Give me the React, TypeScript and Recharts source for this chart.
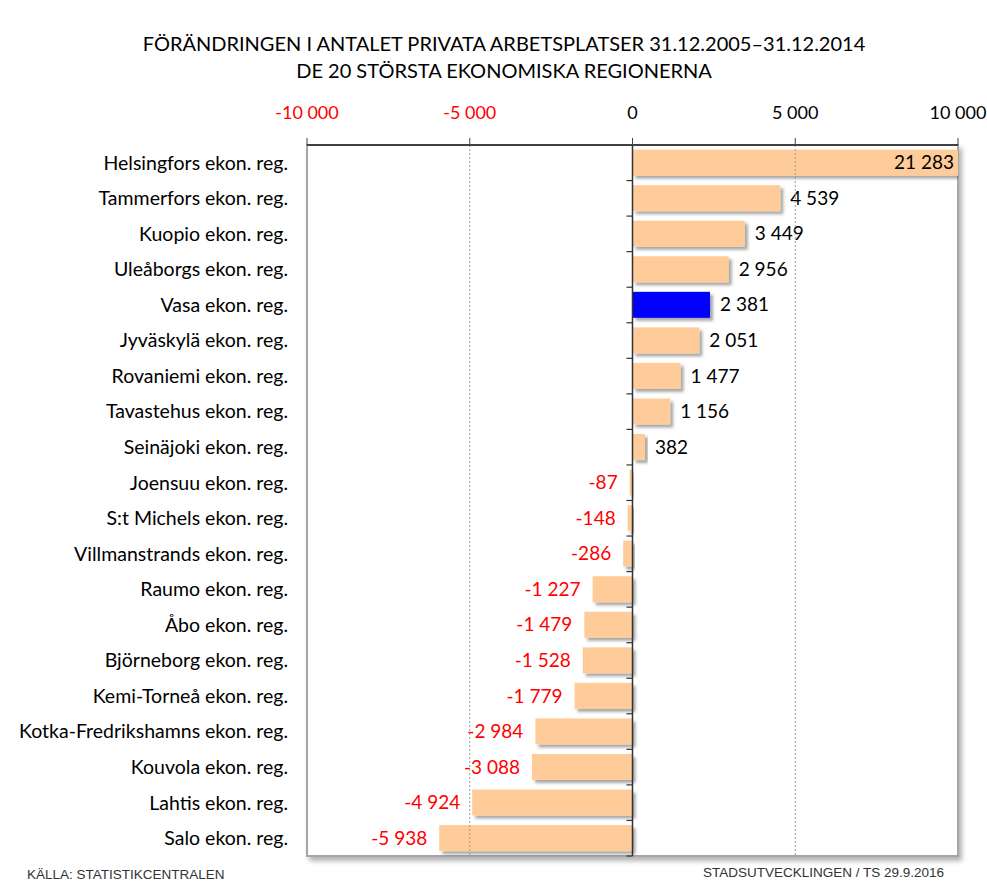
import React from 'react';
import { BarChart, Bar, XAxis, YAxis, ReferenceLine, ReferenceArea } from 'recharts';

const regions = [
  'Helsingfors ekon. reg.',
  'Tammerfors ekon. reg.',
  'Kuopio ekon. reg.',
  'Uleåborgs ekon. reg.',
  'Vasa ekon. reg.',
  'Jyväskylä ekon. reg.',
  'Rovaniemi ekon. reg.',
  'Tavastehus ekon. reg.',
  'Seinäjoki ekon. reg.',
  'Joensuu ekon. reg.',
  'S:t Michels ekon. reg.',
  'Villmanstrands ekon. reg.',
  'Raumo ekon. reg.',
  'Åbo ekon. reg.',
  'Björneborg ekon. reg.',
  'Kemi-Torneå ekon. reg.',
  'Kotka-Fredrikshamns ekon. reg.',
  'Kouvola ekon. reg.',
  'Lahtis ekon. reg.',
  'Salo ekon. reg.',
];

const changes = [
  21283, 4539, 3449, 2956, 2381, 2051, 1477, 1156, 382, -87,
  -148, -286, -1227, -1479, -1528, -1779, -2984, -3088, -4924, -5938,
];

const xTicks = [-10000, -5000, 0, 5000, 10000];
const highlight = 'Vasa ekon. reg.';
const AXIS_MIN = -10000;
const AXIS_MAX = 10000;

// bars past the axis end are cut at the edge, like the original
const data = regions.map((name, i) => ({
  name,
  value: changes[i],
  shown: Math.max(AXIS_MIN, Math.min(AXIS_MAX, changes[i])),
}));

const FONT = 'Lato, "Open Sans", sans-serif';

const fmt = (v: number) => {
  const s = Math.abs(Math.round(v)).toString().replace(/\B(?=(\d{3})+(?!\d))/g, ' ');
  return (v < 0 ? '-' : '') + s;
};

const BarShape = (props: any) => {
  const { x, y, width, height, payload } = props;
  const left = width < 0 ? x + width : x;
  const w = Math.abs(width);
  const v = payload.value;
  const fill = payload.name === highlight ? '#0000FF' : '#FFCC99';
  const cy = y + height / 2;
  let label;
  if (v > AXIS_MAX) {
    label = (
      <text x={left + w - 4} y={cy} dy="0.35em" textAnchor="end" fontSize={19} fontFamily={FONT} fill="#000">
        {fmt(v)}
      </text>
    );
  } else if (v >= 0) {
    label = (
      <text x={left + w + 10} y={cy} dy="0.35em" textAnchor="start" fontSize={19} fontFamily={FONT} fill="#000">
        {fmt(v)}
      </text>
    );
  } else {
    label = (
      <text x={left - 12} y={cy} dy="0.35em" textAnchor="end" fontSize={19} fontFamily={FONT} fill="#FF0000">
        {fmt(v)}
      </text>
    );
  }
  return (
    <g>
      <rect x={left} y={y} width={w} height={height} fill={fill} filter="url(#barShadow)" />
      {label}
    </g>
  );
};

// category axis sits at zero, with tick marks between the rows
const ZeroAxis = (props: any) => {
  const { x1, y1, y2 } = props;
  const n = regions.length;
  const step = (y2 - y1) / n;
  return (
    <g>
      <line x1={x1} y1={y1} x2={x1} y2={y2} stroke="#333" strokeWidth={1.5} />
      {Array.from({ length: n + 1 }, (_, i) => (
        <line key={i} x1={x1 - 6} x2={x1} y1={y1 + i * step} y2={y1 + i * step} stroke="#333" strokeWidth={1.2} />
      ))}
    </g>
  );
};

const PlotFrame = (props: any) => {
  const { x, y, width, height } = props;
  return (
    <rect x={x} y={y} width={width} height={height} fill="#fff" stroke="#a6a6a6" strokeWidth={2} filter="url(#frameShadow)" />
  );
};

const XTick = (props: any) => {
  const { x, y, payload } = props;
  const v = payload.value;
  return (
    <text x={x} y={y - 19} textAnchor="middle" fontSize={18} fontFamily={FONT} fill={v < 0 ? '#FF0000' : '#000'}>
      {fmt(v)}
    </text>
  );
};

const YTick = (props: any) => {
  const { x, y, payload } = props;
  return (
    <text x={x} y={y} dy="0.35em" textAnchor="end" fontSize={19.5} fontFamily={FONT} fill="#000">
      {payload.value}
    </text>
  );
};

export default function App() {
  return (
    <div style={{ position: 'absolute', left: 0, top: 0, width: 987, height: 887, background: '#fff' }}>
      <svg width={0} height={0} style={{ position: 'absolute' }}>
        <defs>
          <filter id="barShadow" x="-10%" y="-20%" width="130%" height="160%">
            <feDropShadow dx={3} dy={3} stdDeviation={1.8} floodColor="#000" floodOpacity={0.35} />
          </filter>
          <filter id="frameShadow" x="-5%" y="-5%" width="110%" height="110%">
            <feDropShadow dx={3} dy={4} stdDeviation={2.5} floodColor="#000" floodOpacity={0.3} />
          </filter>
        </defs>
      </svg>
      <div
        style={{
          position: 'absolute', left: 0, top: 30, width: 1008, textAlign: 'center',
          fontFamily: FONT, fontSize: 20, lineHeight: '27px', color: '#000',
        }}
      >
        <div>FÖRÄNDRINGEN I ANTALET PRIVATA ARBETSPLATSER 31.12.2005–31.12.2014</div>
        <div>DE 20 STÖRSTA EKONOMISKA REGIONERNA</div>
      </div>
      <BarChart
        width={987}
        height={887}
        data={data}
        layout="vertical"
        margin={{ top: 85, right: 29, bottom: 31, left: 0 }}
        barCategoryGap="13%"
      >
        <ReferenceArea x1={AXIS_MIN} x2={AXIS_MAX} shape={PlotFrame} ifOverflow="visible" />
        <ReferenceLine x={-5000} stroke="#9a9a9a" strokeDasharray="2 2" />
        <ReferenceLine x={5000} stroke="#9a9a9a" strokeDasharray="2 2" />
        <XAxis
          type="number"
          orientation="top"
          domain={[AXIS_MIN, AXIS_MAX]}
          ticks={xTicks}
          interval={0}
          allowDataOverflow
          height={60}
          tickSize={7}
          tickMargin={0}
          axisLine={{ stroke: '#404040', strokeWidth: 2 }}
          tickLine={{ stroke: '#404040' }}
          tick={<XTick />}
        />
        <YAxis
          type="category"
          dataKey="name"
          width={307}
          axisLine={false}
          tickLine={false}
          tickSize={0}
          tickMargin={19}
          interval={0}
          tick={<YTick />}
        />
        <Bar dataKey="shown" shape={<BarShape />} isAnimationActive={false} />
        <ReferenceLine x={0} shape={<ZeroAxis />} />
      </BarChart>
      <div
        style={{
          position: 'absolute', left: 27, top: 867, fontFamily: '"Liberation Sans", Arial, sans-serif',
          fontSize: 13.5, color: '#333',
        }}
      >
        KÄLLA: STATISTIKCENTRALEN
      </div>
      <div
        style={{
          position: 'absolute', left: 703, top: 865, fontFamily: '"Liberation Sans", Arial, sans-serif',
          fontSize: 13.5, color: '#333',
        }}
      >
        STADSUTVECKLINGEN / TS 29.9.2016
      </div>
    </div>
  );
}
